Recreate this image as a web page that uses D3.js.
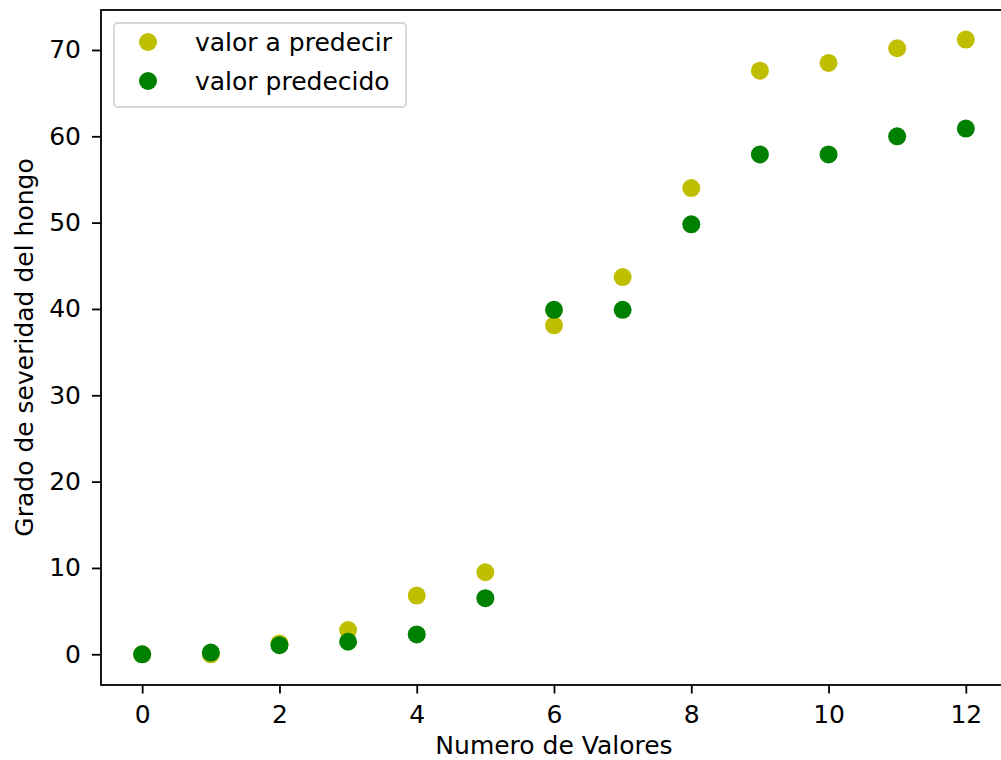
<!DOCTYPE html>
<meta charset="utf-8">
<style>
body {
  margin: 0;
  background: #fff;
  font-family: "DejaVu Sans";
}
.axis text {
  font-family: "DejaVu Sans";
  font-size: 25px;
  fill: #000;
}
.axis path, .axis line {
  stroke: #000;
  stroke-width: 1.8;
}
</style>
<body>
<script src="https://d3js.org/d3.v7.min.js"></script>
<script>

var width = 1001,
    height = 760;

var xValues = [0, 1, 2, 3, 4, 5, 6, 7, 8, 9, 10, 11, 12];
var valorAPredecir = [0, 0, 1.25, 2.8, 6.8, 9.5, 38.1, 43.7, 54.0, 67.6, 68.5, 70.2, 71.2];
var valorPredecido = [0, 0.2, 1.05, 1.45, 2.3, 6.5, 39.9, 39.9, 49.8, 57.9, 57.9, 60.0, 60.9];
var xTicks = [0, 2, 4, 6, 8, 10, 12];
var yTicks = [0, 10, 20, 30, 40, 50, 60, 70];

var series = [
  {name: "valor a predecir", color: "#bfbf00", values: valorAPredecir},
  {name: "valor predecido", color: "#008000", values: valorPredecido}
];

var plotLeft = 101, plotRight = 1007, plotTop = 10, plotBottom = 685;

var x = d3.scaleLinear().domain([-0.6, 12.6]).range([plotLeft, plotRight]);
var y = d3.scaleLinear().domain([-3.56, 74.63]).range([plotBottom, plotTop]);

var svg = d3.select("body").append("svg")
    .attr("width", width)
    .attr("height", height);

// frame (right side falls outside the picture)
svg.append("rect")
    .attr("x", plotLeft)
    .attr("y", plotTop)
    .attr("width", plotRight - plotLeft)
    .attr("height", plotBottom - plotTop)
    .attr("fill", "none")
    .attr("stroke", "#000")
    .attr("stroke-width", 1.8);

svg.append("g")
    .attr("class", "axis")
    .attr("transform", "translate(0," + plotBottom + ")")
    .call(d3.axisBottom(x).tickValues(xTicks).tickSize(8.5).tickPadding(12).tickSizeOuter(0))
    .call(function(g) { g.select(".domain").remove(); });

svg.append("g")
    .attr("class", "axis")
    .attr("transform", "translate(" + plotLeft + ",0)")
    .call(d3.axisLeft(y).tickValues(yTicks).tickSize(9).tickPadding(11).tickSizeOuter(0))
    .call(function(g) { g.select(".domain").remove(); });

svg.append("text")
    .attr("x", (plotLeft + plotRight) / 2)
    .attr("y", 754)
    .attr("text-anchor", "middle")
    .style("font-size", "25px")
    .text("Numero de Valores");

svg.append("text")
    .attr("transform", "translate(33," + (plotTop + plotBottom) / 2 + ") rotate(-90)")
    .attr("text-anchor", "middle")
    .style("font-size", "25px")
    .text("Grado de severidad del hongo");

series.forEach(function(s) {
  svg.append("g").selectAll("circle")
      .data(s.values)
    .enter().append("circle")
      .attr("cx", function(d, i) { return x(xValues[i]); })
      .attr("cy", function(d) { return y(d); })
      .attr("r", 9)
      .attr("fill", s.color);
});

// legend
var legend = svg.append("g");

legend.append("rect")
    .attr("x", 114)
    .attr("y", 23)
    .attr("width", 292)
    .attr("height", 84)
    .attr("rx", 4)
    .attr("fill", "#fff")
    .attr("fill-opacity", 0.8)
    .attr("stroke", "#d6d6d6")
    .attr("stroke-width", 1.8);

legend.selectAll(".item")
    .data(series)
  .enter().append("g")
    .attr("class", "item")
    .attr("transform", function(d, i) { return "translate(148," + (42 + i * 39) + ")"; })
    .each(function(d) {
      var g = d3.select(this);
      g.append("circle").attr("r", 9).attr("fill", d.color);
      g.append("text")
          .attr("x", 47)
          .attr("dy", "0.35em")
          .style("font-size", "25px")
          .attr("fill", "#000")
          .text(d.name);
    });

</script>
